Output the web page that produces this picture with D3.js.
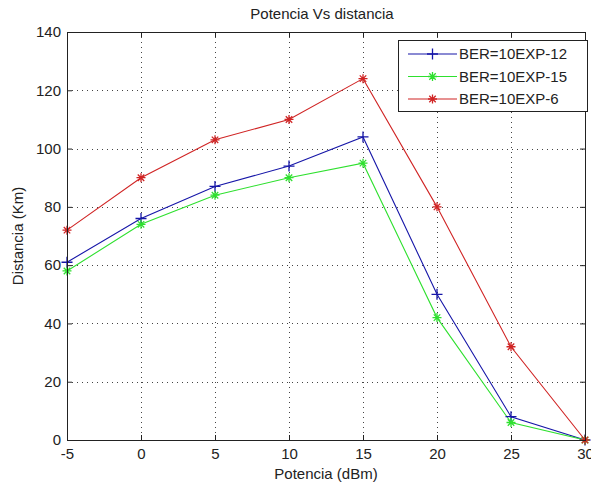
<!DOCTYPE html>
<html>
<head>
<meta charset="utf-8">
<script src="https://cdn.jsdelivr.net/npm/d3@7"></script>
<style>
  body { margin: 0; background: #fff; }
  svg { display: block; font-family: "Liberation Sans", Arial, sans-serif; }
</style>
</head>
<body>
<div id="vis"></div>
<script>
// data
const potencia = [-5, 0, 5, 10, 15, 20, 25, 30];
const ber12 = [61, 76, 87, 94, 104, 50, 8, 0];
const ber15 = [58, 74, 84, 90, 95, 42, 6, 0];
const ber6 = [72, 90, 103, 110, 124, 80, 32, 0];
const seriesNames = ["BER=10EXP-12", "BER=10EXP-15", "BER=10EXP-6"];
const xTicks = [-5, 0, 5, 10, 15, 20, 25, 30];
const yTicks = [0, 20, 40, 60, 80, 100, 120, 140];

const layout = {
    width: 591,
    height: 484,
    left: 67,
    right: 585,
    top: 32,
    bottom: 440,
    fontSize: 15
};

const series = [
    {name: seriesNames[0], values: ber12, color: "#1616a8", marker: "plus"},
    {name: seriesNames[1], values: ber15, color: "#2ee02e", marker: "star"},
    {name: seriesNames[2], values: ber6, color: "#d02424", marker: "star"}
];

let svg = d3.select("#vis").append("svg")
    .attr("width", layout.width)
    .attr("height", layout.height);

svg.append("rect")
    .attr("width", layout.width)
    .attr("height", layout.height)
    .attr("fill", "#fff");

let xScale = d3.scaleLinear().domain([-5, 30]).range([layout.left, layout.right]);
let yScale = d3.scaleLinear().domain([0, 140]).range([layout.bottom, layout.top]);

// dotted grid
let grid = svg.append("g").attr("stroke", "#444").attr("stroke-width", 1)
    .attr("stroke-dasharray", "1,4");
grid.selectAll(".gx").data(xTicks).join("line")
    .attr("x1", d => Math.round(xScale(d)) + 0.5)
    .attr("x2", d => Math.round(xScale(d)) + 0.5)
    .attr("y1", layout.top)
    .attr("y2", layout.bottom);
grid.selectAll(".gy").data(yTicks).join("line")
    .attr("x1", layout.left)
    .attr("x2", layout.right)
    .attr("y1", d => Math.round(yScale(d)) + 0.5)
    .attr("y2", d => Math.round(yScale(d)) + 0.5);

// series lines
let line = d3.line()
    .x((d, i) => xScale(potencia[i]))
    .y(d => yScale(d));

series.forEach(s => {
    svg.append("path")
        .datum(s.values)
        .attr("fill", "none")
        .attr("stroke", s.color)
        .attr("stroke-width", 1.1)
        .attr("d", line);
});

function markerPath(type, r) {
    if (type === "plus") {
        return `M${-r},0H${r}M0,${-r}V${r}`;
    }
    let k = r * 0.72;
    return `M${-r},0H${r}M0,${-r}V${r}M${-k},${-k}L${k},${k}M${-k},${k}L${k},${-k}`;
}

series.forEach(s => {
    svg.append("g").selectAll("path")
        .data(s.values)
        .join("path")
        .attr("transform", (d, i) => `translate(${xScale(potencia[i])},${yScale(d)})`)
        .attr("d", markerPath(s.marker, s.marker === "plus" ? 5.5 : 4.5))
        .attr("fill", "none")
        .attr("stroke", s.color)
        .attr("stroke-width", 1.3);
});

// axes, ticks pointing inwards (plain hyphen for negatives like the original)
let plain = d => String(d);
let axisX = svg.append("g")
    .attr("transform", `translate(0,${layout.bottom})`)
    .call(d3.axisBottom(xScale).tickValues(xTicks).tickSize(-5).tickPadding(8).tickFormat(plain));
let axisY = svg.append("g")
    .attr("transform", `translate(${layout.left},0)`)
    .call(d3.axisLeft(yScale).tickValues(yTicks).tickSize(-5).tickPadding(6).tickFormat(plain));
let axisTop = svg.append("g")
    .attr("transform", `translate(0,${layout.top})`)
    .call(d3.axisTop(xScale).tickValues(xTicks).tickSize(-5).tickFormat(""));
let axisRight = svg.append("g")
    .attr("transform", `translate(${layout.right},0)`)
    .call(d3.axisRight(yScale).tickValues(yTicks).tickSize(-5).tickFormat(""));

[axisX, axisY, axisTop, axisRight].forEach(a => {
    a.selectAll(".domain").remove();
    a.selectAll("line").attr("stroke", "#222");
    a.selectAll("text")
        .attr("fill", "#222")
        .attr("font-size", layout.fontSize)
        .attr("font-family", "Liberation Sans, Arial, sans-serif");
});

// box around plot
svg.append("rect")
    .attr("x", layout.left + 0.5)
    .attr("y", layout.top + 0.5)
    .attr("width", layout.right - layout.left)
    .attr("height", layout.bottom - layout.top)
    .attr("fill", "none")
    .attr("stroke", "#222")
    .attr("stroke-width", 1);

// title and labels
svg.append("text")
    .attr("x", (layout.left + layout.right) / 2 - 4)
    .attr("y", 19)
    .attr("text-anchor", "middle")
    .attr("font-size", layout.fontSize)
    .attr("fill", "#222")
    .text("Potencia Vs distancia");

svg.append("text")
    .attr("x", (layout.left + layout.right) / 2)
    .attr("y", 479)
    .attr("text-anchor", "middle")
    .attr("font-size", layout.fontSize)
    .attr("fill", "#222")
    .text("Potencia (dBm)");

svg.append("text")
    .attr("transform", `translate(23,${(layout.top + layout.bottom) / 2}) rotate(-90)`)
    .attr("text-anchor", "middle")
    .attr("font-size", layout.fontSize)
    .attr("fill", "#222")
    .text("Distancia (Km)");

// legend
const legend = {x: 398, y: 40, w: 189, h: 71, rowY: [54, 76.5, 99]};
let lg = svg.append("g");
lg.append("rect")
    .attr("x", legend.x + 0.5)
    .attr("y", legend.y + 0.5)
    .attr("width", legend.w)
    .attr("height", legend.h)
    .attr("fill", "#fff")
    .attr("stroke", "#222");
series.forEach((s, i) => {
    let y = legend.rowY[i];
    lg.append("line")
        .attr("x1", legend.x + 10).attr("x2", legend.x + 59)
        .attr("y1", y).attr("y2", y)
        .attr("stroke", s.color).attr("stroke-width", 1.1);
    lg.append("path")
        .attr("transform", `translate(${legend.x + 34.5},${y})`)
        .attr("d", markerPath(s.marker, s.marker === "plus" ? 5.5 : 4.5))
        .attr("fill", "none")
        .attr("stroke", s.color)
        .attr("stroke-width", 1.3);
    lg.append("text")
        .attr("x", legend.x + 61)
        .attr("y", y)
        .attr("dy", "0.36em")
        .attr("font-size", layout.fontSize)
        .attr("fill", "#222")
        .text(s.name);
});
</script>
</body>
</html>
